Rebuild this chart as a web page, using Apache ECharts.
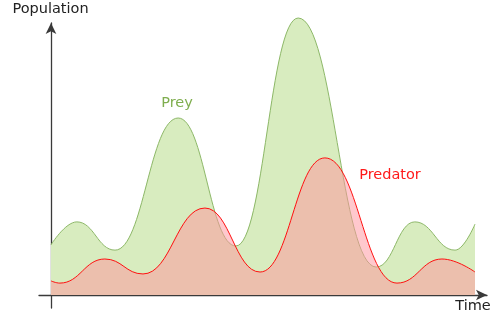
<!DOCTYPE html>
<html>
<head>
<meta charset="utf-8">
<script src="https://cdn.jsdelivr.net/npm/echarts@6/dist/echarts.min.js"></script>
<style>
html,body{margin:0;padding:0;background:#fff;}
#chart{width:500px;height:314px;}
</style>
</head>
<body>
<div id="chart"></div>
<script>
// Prey population: turning points over time
var preyTime = [0, 6.1, 15.1, 30.0, 43.6, 58.3, 76.7, 85.8, 95.3, 100];
var preyPop  = [18.1, 26.4, 16.2, 63.9, 17.7, 100, 10.1, 26.4, 16.2, 25.6];
// Predator population: turning points over time
var predTime = [0, 2.1, 12.7, 21.7, 36.3, 49.3, 64.6, 81.6, 92.2, 100];
var predPop  = [5.1, 4.3, 13.0, 7.6, 31.4, 8.3, 49.5, 4.3, 13.0, 8.3];

var seriesNames = ['Prey', 'Predator'];
var axisNames = ['Time', 'Population'];

function pairs(xs, ys) {
  var out = [];
  for (var i = 0; i < xs.length; i++) out.push([xs[i], ys[i]]);
  return out;
}

var chart = echarts.init(document.getElementById('chart'), null, {renderer: 'canvas'});
var axisLineStyle = {color: '#3a3a3a', width: 1.3};
var font = '14.5px "DejaVu Sans"';
chart.setOption({
  animation: false,
  backgroundColor: '#ffffff',
  grid: {left: 39, right: 13, top: 23, bottom: 6},
  xAxis: {
    type: 'value', min: -2.83, max: 102.83,
    axisLine: {show: true, onZero: true, symbol: ['none', 'arrow'], symbolSize: [8, 11], lineStyle: axisLineStyle},
    axisTick: {show: false}, axisLabel: {show: false}, splitLine: {show: false}
  },
  yAxis: {
    type: 'value', min: -4.69, max: 98.2,
    axisLine: {show: true, onZero: true, symbol: ['none', 'arrow'], symbolSize: [8, 11], lineStyle: axisLineStyle},
    axisTick: {show: false}, axisLabel: {show: false}, splitLine: {show: false}
  },
  series: [
    {
      name: seriesNames[0], type: 'line', smooth: 0.45, smoothMonotone: 'x', showSymbol: false, clip: false, z: 2,
      data: pairs(preyTime, preyPop),
      lineStyle: {color: '#8db868', width: 1},
      areaStyle: {color: '#d8ecbf', opacity: 1}
    },
    {
      name: seriesNames[1], type: 'line', smooth: 0.45, smoothMonotone: 'x', showSymbol: false, clip: false, z: 3,
      data: pairs(predTime, predPop),
      lineStyle: {color: '#ff1010', width: 1},
      areaStyle: {color: 'rgba(255,145,155,0.5)', opacity: 1}
    }
  ],
  graphic: [
    {type: 'text', style: {text: axisNames[1], x: 50.5, y: 9, fill: '#222', font: font, textAlign: 'center', textVerticalAlign: 'middle', align: 'center', verticalAlign: 'middle'}},
    {type: 'text', style: {text: axisNames[0], x: 473, y: 306, fill: '#222', font: font, textAlign: 'center', textVerticalAlign: 'middle', align: 'center', verticalAlign: 'middle'}},
    {type: 'text', style: {text: seriesNames[0], x: 177, y: 103, fill: '#7fae4f', font: font, textAlign: 'center', textVerticalAlign: 'middle', align: 'center', verticalAlign: 'middle'}},
    {type: 'text', style: {text: seriesNames[1], x: 390, y: 175, fill: '#ff1a1a', font: font, textAlign: 'center', textVerticalAlign: 'middle', align: 'center', verticalAlign: 'middle'}}
  ]
});
</script>
</body>
</html>
